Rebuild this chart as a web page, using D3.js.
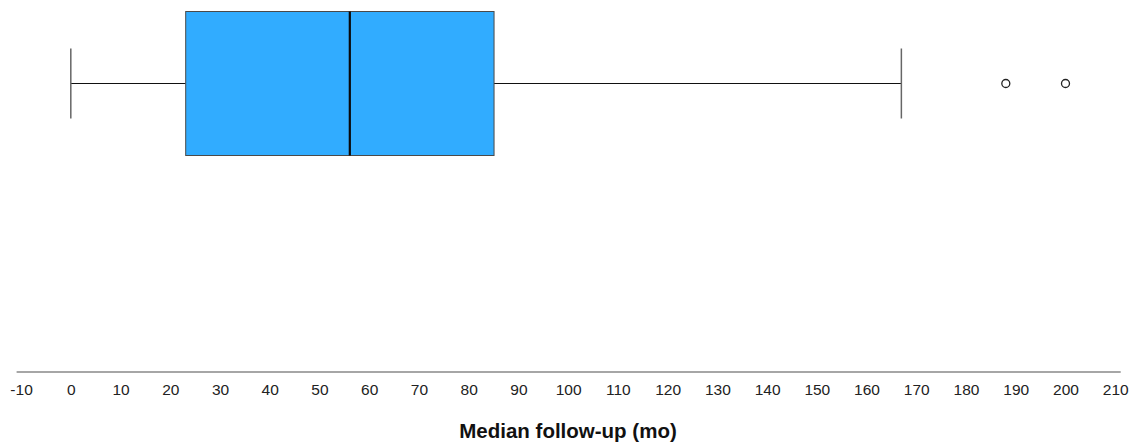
<!DOCTYPE html>
<html>
<head>
<meta charset="utf-8">
<script src="https://cdn.jsdelivr.net/npm/d3@7"></script>
<style>
  body { margin: 0; background: #fff; }
  svg { display: block; font-family: "Liberation Sans", Arial, sans-serif; }
</style>
</head>
<body>
<div id="chart"></div>
<script>
// box plot summary (months)
var stats = [0, 23.1, 56.1, 85.1, 167];   // min, Q1, median, Q3, max
var outliers = [188, 200];
var tickValues = d3.range(-10, 211, 10);
var axisTitle = "Median follow-up (mo)";

var width = 1137, height = 446;

var svg = d3.select("#chart").append("svg")
    .attr("width", width)
    .attr("height", height);

var x = d3.scaleLinear()
    .domain([-11, 211])
    .range([16.1, 1120.2]);

var yMid = 83.5, boxTop = 11.5, boxBot = 155.5, capHalf = 35;

// whiskers
svg.append("line")
    .attr("x1", x(stats[0])).attr("x2", x(stats[1]))
    .attr("y1", yMid).attr("y2", yMid)
    .attr("stroke", "#111").attr("stroke-width", 1);
svg.append("line")
    .attr("x1", x(stats[3])).attr("x2", x(stats[4]))
    .attr("y1", yMid).attr("y2", yMid)
    .attr("stroke", "#111").attr("stroke-width", 1);

// caps
svg.selectAll(".cap")
    .data([stats[0], stats[4]])
    .enter().append("line")
    .attr("class", "cap")
    .attr("x1", function(d) { return x(d); })
    .attr("x2", function(d) { return x(d); })
    .attr("y1", yMid - capHalf).attr("y2", yMid + capHalf)
    .attr("stroke", "#666").attr("stroke-width", 1.5);

// box
svg.append("rect")
    .attr("x", x(stats[1]))
    .attr("y", boxTop)
    .attr("width", x(stats[3]) - x(stats[1]))
    .attr("height", boxBot - boxTop)
    .attr("fill", "#31acff")
    .attr("stroke", "#4a4a4a")
    .attr("stroke-width", 1);

// median
svg.append("line")
    .attr("x1", x(stats[2])).attr("x2", x(stats[2]))
    .attr("y1", boxTop).attr("y2", boxBot)
    .attr("stroke", "#0a0a0a").attr("stroke-width", 2.2);

// outliers
svg.selectAll(".out")
    .data(outliers)
    .enter().append("circle")
    .attr("class", "out")
    .attr("cx", function(d) { return x(d); })
    .attr("cy", yMid)
    .attr("r", 4)
    .attr("fill", "#fff")
    .attr("stroke", "#222")
    .attr("stroke-width", 1.3);

// axis
var axis = d3.axisBottom(x)
    .tickValues(tickValues)
    .tickSize(0)
    .tickPadding(12)
    .tickFormat(function(d) { return String(d); });

var g = svg.append("g")
    .attr("transform", "translate(0,371.5)")
    .call(axis);
g.select(".domain").attr("stroke", "#888").attr("stroke-width", 1.5);
g.selectAll("text")
    .attr("fill", "#222")
    .style("font-size", "15.5px")
    .style("font-family", "'Liberation Sans', Arial, sans-serif");

svg.append("text")
    .attr("x", 568)
    .attr("y", 438)
    .attr("text-anchor", "middle")
    .style("font-size", "20.5px")
    .style("font-weight", "bold")
    .attr("fill", "#111")
    .text(axisTitle);
</script>
</body>
</html>
